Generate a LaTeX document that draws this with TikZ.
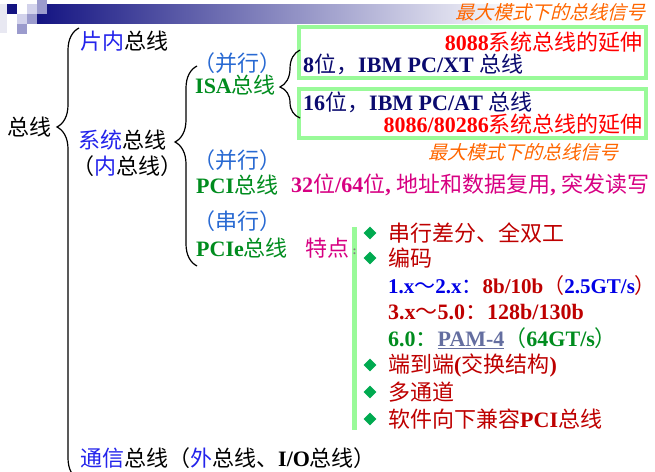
\documentclass[tikz,border=0pt]{standalone}
\usepackage{fontspec}
\setmainfont{Liberation Serif}
\newfontfamily\zhfont{Noto Sans CJK SC}
\newfontfamily\zhslfont{Noto Sans CJK SC}[FakeSlant=0.25]
\usetikzlibrary{shapes.geometric,decorations.pathreplacing,positioning}
\newcommand{\zw}[1]{{\zhfont\mdseries #1}}
\newcommand{\zsl}[1]{{\zhslfont\mdseries #1}}
\definecolor{tblue}{RGB}{35,35,235}
\definecolor{pblue}{RGB}{40,105,210}
\definecolor{tgreen}{RGB}{0,140,30}
\definecolor{tnavy}{RGB}{10,10,110}
\definecolor{tred}{RGB}{255,0,0}
\definecolor{torange}{RGB}{255,102,0}
\definecolor{tmag}{RGB}{215,0,130}
\definecolor{tdkred}{RGB}{190,0,0}
\definecolor{lblue}{RGB}{0,0,230}
\definecolor{pamgray}{RGB}{100,110,160}
\definecolor{boxgreen}{RGB}{153,250,153}
\definecolor{dmdgreen}{RGB}{0,170,80}
\definecolor{pnavy}{RGB}{20,20,130}
\definecolor{pmid}{RGB}{155,155,205}
\definecolor{plight}{RGB}{210,210,235}
\definecolor{pfaint}{RGB}{232,232,242}
\begin{document}
\begin{tikzpicture}[x=1pt,y=-1pt,
    txt/.style={inner sep=0pt, anchor=west, font=\fontsize{22}{25}\selectfont\bfseries},
    note/.style={inner sep=0pt, anchor=west, font=\fontsize{19}{22}\selectfont, text=torange},
    gbox/.style={draw=boxgreen, line width=4pt, minimum width=347pt, inner sep=0pt},
    brc/.style={decorate, line width=1.2pt, draw=black},
    dmd/.style={diamond, fill=dmdgreen, inner sep=0pt, minimum size=13pt}]
    \useasboundingbox (0,0) rectangle (655,471);
    % title bar of the slide
    \shade[left color=pnavy, right color=white] (37,4) rectangle (520,23);
    \fill[pfaint] (0,4) rectangle (7,33);
    \fill[pnavy]  (7,4) rectangle (17,14);
    \fill[plight] (27,4) rectangle (37,14);
    \fill[pmid]   (37,0) rectangle (47,14);
    \fill[plight] (17,14) rectangle (27,24);
    \fill[pmid]   (27,14) rectangle (37,24);
    \fill[pmid]   (17,24) rectangle (27,34);

    % first level
    \node[txt] (bus)    at (7,127)  {\zw{总线}};
    \node[txt] (onchip) at (80,41)  {\textcolor{tblue}{\zw{片内}}\zw{总线}};
    \node[txt] (sysbus) at (78,140) {\textcolor{tblue}{\zw{系统}}\zw{总线}};
    \node[txt] (inbus)  at (72,166) {\zw{（\textcolor{tblue}{内}总线）}};
    \node[txt] (iobus)  at (80,458) {\textcolor{tblue}{\zw{通信}}\zw{总线（}\textcolor{tblue}{\zw{外}}\zw{总线、}I/O\zw{总线）}};
    \coordinate (busbot) at (79,480);
    \coordinate (bustop) at (79,28);
    \draw[brc, decoration={brace, amplitude=22pt, aspect=0.781}] (busbot) -- (bustop);

    % system bus
    \node[txt, text=pblue]  (isapar)  at (193,63)  {\zw{（并行）}};
    \node[txt, text=tgreen] (isa)     at (195,85)  {ISA\zw{总线}};
    \node[txt, text=pblue]  (pcipar)  at (193,160) {\zw{（并行）}};
    \node[txt, text=tgreen] (pci)     at (196,185) {PCI\zw{总线}};
    \node[txt, text=pblue]  (pciepar) at (193,221) {\zw{（串行）}};
    \node[txt, text=tgreen] (pcie)    at (196,248) {PCIe\zw{总线}};
    \coordinate (sysbot) at (197,266);
    \coordinate (systop) at (197,66);
    \draw[brc, decoration={brace, amplitude=22pt, aspect=0.62}] (sysbot) -- (systop);

    % ISA
    \node[gbox, minimum height=51pt] (xtbox) at (472.5,52.5)  {};
    \node[gbox, minimum height=49pt] (atbox) at (472.5,113.5) {};
    \node[txt, anchor=east, text=tred] (ext88) at (643,42)  {8088\zw{系统总线的延伸}};
    \node[txt, text=tnavy]             (xt)    at (303,64)  {8\zw{位，}IBM PC/XT \zw{总线}};
    \node[txt, text=tnavy]             (at)    at (303,102) {16\zw{位，}IBM PC/AT \zw{总线}};
    \node[txt, anchor=east, text=tred] (ext86) at (643,124) {8086/80286\zw{系统总线的延伸}};
    \node[note] (maxtop) at (455,12)  {\zsl{最大模式下的总线信号}};
    \node[note] (maxbot) at (428,152) {\zsl{最大模式下的总线信号}};
    \coordinate (isabot) at (300,118);
    \coordinate (isatop) at (300,50);
    \draw[brc, decoration={brace, amplitude=20pt, aspect=0.456}] (isabot) -- (isatop);

    % PCI
    \node[txt, text=tmag] (pcifeat) at (291,185) {32\zw{位}/64\zw{位}, \zw{地址和数据复用}, \zw{突发读写}};

    % PCIe
    \node[txt, text=tmag] (feat) at (305,248) {\zw{特点}};
    \node[fill=boxgreen, inner sep=0pt, minimum width=5pt, minimum height=203pt] (fbar) at (354.5,328.5) {};
    \node[inner sep=0pt, font=\fontsize{12}{12}\selectfont\bfseries, text=gray] (colon) at (354.5,252) {:};
    \foreach \y/\n in {233/1,258/2,365/3,392/4,419/5}
        \node[dmd] (dm\n) at (370,\y) {};
    \node[txt, text=tdkred] (it1)  at (388,233) {\zw{串行差分、全双工}};
    \node[txt, text=tdkred] (it2)  at (388,258) {\zw{编码}};
    \node[txt, font=\fontsize{21}{24}\selectfont\bfseries]
                            (enc1) at (388,286) {\textcolor{lblue}{1.x\zw{～}2.x\zw{：}}\textcolor{tdkred}{8b/10b\zw{（}}\textcolor{lblue}{2.5GT/s}\textcolor{tdkred}{\zw{）}}};
    \node[txt, text=tdkred] (enc2) at (388,312) {3.x\zw{～}5.0\zw{：}128b/130b};
    \node[txt, text=tgreen] (enc3) at (388,338) {6.0\zw{：}\textcolor{pamgray}{\underline{PAM-4}}\zw{（}64GT/s\zw{）}};
    \node[txt, text=tdkred] (it3)  at (388,365) {\zw{端到端}(\zw{交换结构})};
    \node[txt, text=tdkred] (it4)  at (388,392) {\zw{多通道}};
    \node[txt, text=tdkred] (it5)  at (388,419) {\zw{软件向下兼容}PCI\zw{总线}};
\end{tikzpicture}
\end{document}
